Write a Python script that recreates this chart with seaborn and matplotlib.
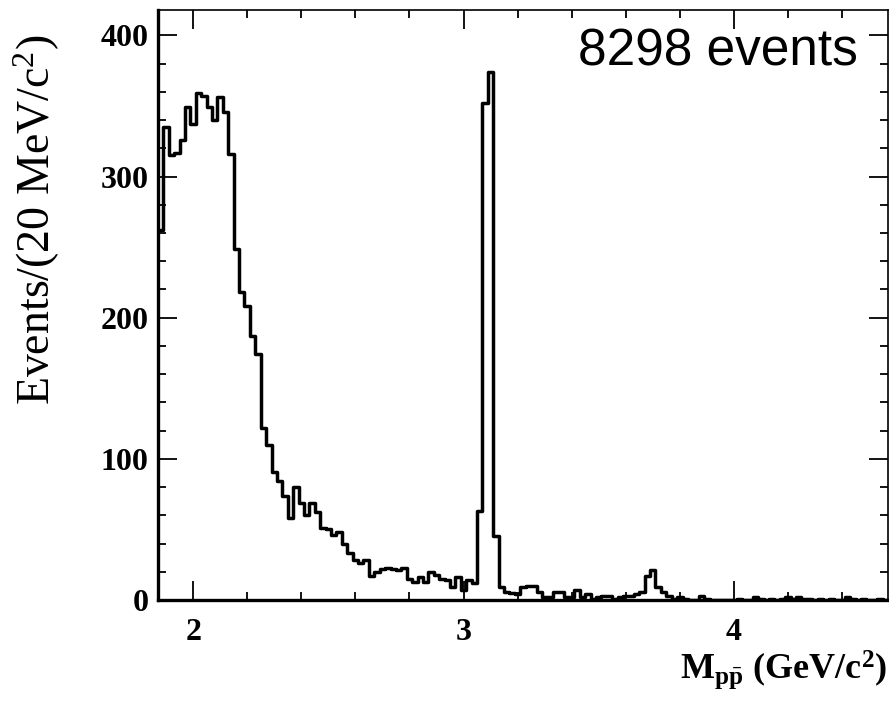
import numpy as np
import pandas as pd
import matplotlib
matplotlib.use("Agg")
import matplotlib.pyplot as plt
from matplotlib.ticker import MultipleLocator
import seaborn as sns

# p pbar invariant mass spectrum, 20 MeV/c^2 bins starting at 1.87 GeV/c^2
bin_start = 1.87
bin_width = 0.02
counts = [
    262, 335, 315, 317, 326, 349, 337, 359, 357, 349,
    340, 356, 346, 316, 249, 218, 208, 187, 174, 122,
    110, 91, 84, 74, 58, 80, 69, 60, 69, 62,
    51, 50, 46, 48, 40, 33, 28, 26, 28, 17,
    20, 22, 23, 22, 21, 23, 15, 13, 16, 13,
    20, 18, 15, 14, 9, 16, 7, 14, 12, 63,
    352, 374, 45, 9, 6, 5, 4, 9, 10, 10,
    6, 2, 2, 6, 6, 2, 2, 7, 2, 4,
    1, 2, 3, 3, 1, 2, 3, 3, 4, 6,
    17, 21, 9, 6, 3, 1, 2, 1, 0, 0,
    3, 1, 0, 0, 0, 0, 0, 1, 0, 0,
    2, 1, 0, 1, 0, 1, 2, 1, 2, 1,
    1, 0, 1, 0, 1, 0, 0, 2, 1, 0,
    1, 0, 0, 1, 0,
]
x_ticks = [2, 3, 4]
y_ticks = [0, 100, 200, 300, 400]
event_label = "8298 events"

edges = [round(bin_start + bin_width * i, 4) for i in range(len(counts) + 1)]
centers = [(a + b) / 2 for a, b in zip(edges[:-1], edges[1:])]
df = pd.DataFrame({"mass": centers, "events": counts})

sns.set_theme(style="ticks")
plt.rcParams["font.family"] = ["Liberation Serif", "DejaVu Serif"]
plt.rcParams["mathtext.fontset"] = "custom"
plt.rcParams["mathtext.rm"] = "Liberation Serif"
plt.rcParams["mathtext.it"] = "Liberation Serif:italic"
plt.rcParams["mathtext.bf"] = "Liberation Serif:bold"
for key in ("text.color", "axes.labelcolor", "xtick.color", "ytick.color",
            "axes.edgecolor"):
    plt.rcParams[key] = "black"

fig = plt.figure(figsize=(8.89, 7.03), dpi=100)
ax = fig.add_axes([0.1777, 0.1465, 0.8212, 0.8393])

sns.histplot(data=df, x="mass", weights="events", bins=edges,
             element="step", fill=False, color="black", linewidth=2.5, ax=ax)

ax.set_xlim(edges[0], edges[-1])
ax.set_ylim(0, 418)
ax.set_xticks(x_ticks)
ax.set_yticks(y_ticks)
ax.xaxis.set_minor_locator(MultipleLocator(0.2))
ax.yaxis.set_minor_locator(MultipleLocator(20))
ax.tick_params(which="both", direction="in", top=True, right=True,
               color="black", width=1.3)
ax.tick_params(which="major", length=14)
ax.tick_params(which="minor", length=6)
ax.tick_params(axis="y", which="major", labelsize=23, pad=7)
ax.tick_params(axis="x", which="major", labelsize=23, pad=13)
for lab in ax.get_xticklabels() + ax.get_yticklabels():
    lab.set_fontweight("bold")

for side in ("left", "bottom"):
    ax.spines[side].set_linewidth(2.4)
for side in ("top", "right"):
    ax.spines[side].set_linewidth(1.2)

ax.set_xlabel(r"$\mathbf{M_{p\bar{p}}}$ $\mathbf{(GeV/c^{2})}$", fontsize=26)
ax.xaxis.set_label_coords(0.857, -0.082)
ax.set_ylabel(r"Events/(20 MeV/c$^{2}$)", fontsize=33)
ax.yaxis.set_label_coords(-0.132, 0.645)

ax.text(0.575, 0.928, event_label, transform=ax.transAxes, ha="left",
        va="center", fontsize=37, family="Liberation Sans")

fig.savefig("out.png", dpi=100)
